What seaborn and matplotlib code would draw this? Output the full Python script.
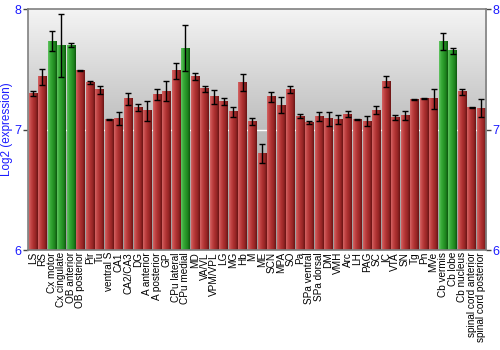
import numpy as np
import pandas as pd
import matplotlib
matplotlib.use("Agg")
import matplotlib.pyplot as plt
from matplotlib.colors import LinearSegmentedColormap, to_hex
import seaborn as sns

regions = ["LS", "RS", "Cx motor", "Cx cingulate", "OB anterior", "OB posterior", "Pir", "Tu",
           "ventral S", "CA1", "CA2/CA3", "DG", "A anterior", "A posterior", "GP", "CPu lateral",
           "CPu medial", "MD", "VA/VL", "VPM/VPL", "LG", "MG", "Hb", "M", "ME", "SCN", "MPA", "SO",
           "Pa", "SPa ventral", "SPa dorsal", "DM", "VMH", "Arc", "LH", "PAG", "SC", "IC", "VTA",
           "SN", "Tg", "Pn", "MVe", "Cb vermis", "Cb lobe", "Cb nucleus", "spinal cord anterior",
           "spinal cord posterior"]
expression = [7.30, 7.44, 7.735, 7.70, 7.70, 7.49, 7.39, 7.33, 7.083, 7.094, 7.257, 7.186,
              7.157, 7.29, 7.32, 7.49, 7.677, 7.442, 7.34, 7.273, 7.235, 7.147, 7.392, 7.069,
              6.80, 7.273, 7.204, 7.334, 7.113, 7.061, 7.11, 7.09, 7.085, 7.13, 7.085, 7.07,
              7.16, 7.40, 7.10, 7.116, 7.25, 7.26, 7.255, 7.73, 7.655, 7.315, 7.183, 7.178]
error = [0.02, 0.066, 0.085, 0.26, 0.017, 0.005, 0.012, 0.037, 0.004, 0.054, 0.048, 0.03,
         0.085, 0.044, 0.083, 0.066, 0.19, 0.03, 0.026, 0.06, 0.026, 0.04, 0.069, 0.03,
         0.081, 0.039, 0.068, 0.029, 0.015, 0.01, 0.04, 0.06, 0.04, 0.025, 0.005, 0.04,
         0.033, 0.044, 0.02, 0.039, 0.004, 0.005, 0.083, 0.072, 0.025, 0.026, 0.004, 0.075]
highlighted = ["Cx motor", "Cx cingulate", "OB anterior", "CPu medial", "Cb vermis", "Cb lobe"]

RED = "#b03434"
GREEN = "#2f9e2f"
palette = [GREEN if r in highlighted else RED for r in regions]

df = pd.DataFrame({"region": regions, "expression": expression})

sns.set_theme(style="white")
plt.rcParams["font.family"] = ["Liberation Sans", "DejaVu Sans"]

fig = plt.figure(figsize=(5, 3.5), dpi=100)
ax = fig.add_axes([0.056, 0.2857, 0.916, 0.6876])

sns.barplot(data=df, x="region", y="expression", hue="region", palette=palette,
            saturation=1, width=0.88, legend=False, errorbar=None, ax=ax, zorder=2)

YMIN, YMAX = 6, 8

# background vertical gradient
bg_cmap = LinearSegmentedColormap.from_list("bg", ["#9c9c9c", "#bdbdbd", "#f4f4f4"])
grad = np.linspace(0, 1, 256).reshape(-1, 1)
ax.imshow(grad, extent=[0, 1, 0, 1], transform=ax.transAxes, aspect="auto",
          cmap=bg_cmap, origin="lower", zorder=0)

ax.axhline(7, color="white", lw=1.0, zorder=1)

red_cmap = LinearSegmentedColormap.from_list(
    "r", ["#d46464", "#c04444", "#ad3030", "#962626", "#6a1414"])
green_cmap = LinearSegmentedColormap.from_list(
    "g", ["#62c462", "#3aab3a", "#2a9a2a", "#1f841f", "#0e560e"])
hgrad = np.linspace(0, 1, 64).reshape(1, -1)
for patch in list(ax.patches):
    x0, y0 = patch.get_x(), patch.get_y()
    w, h = patch.get_width(), patch.get_height()
    fc = to_hex(patch.get_facecolor()).lower()
    cmap = green_cmap if fc == GREEN else red_cmap
    bottom = max(y0, YMIN)
    top = min(y0 + h, YMAX)
    ax.imshow(hgrad, extent=[x0, x0 + w, bottom, top], aspect="auto",
              cmap=cmap, zorder=2, origin="lower")
    patch.set_facecolor("none")
    patch.set_edgecolor("none")

ax.errorbar(np.arange(len(regions)), expression, yerr=error, fmt="none",
            ecolor="black", elinewidth=1.0, capsize=2.5, capthick=1.0, zorder=4)

ax.set_xlim(-0.5, len(regions) - 0.5)
ax.set_ylim(YMIN, YMAX)
ax.set_yticks([6, 7, 8])
ax.set_xlabel("")
ax.set_ylabel("Log2 (expression)", color="#1a1aff", fontsize=8.4)
ax.yaxis.set_label_coords(-0.032, 0.5)

ax.tick_params(axis="y", which="both", left=True, right=True, labelleft=True,
               labelright=True, length=3.5, width=1, color="#444444",
               labelcolor="#1a1aff", labelsize=9, pad=1.0, direction="out")
ax.tick_params(axis="x", bottom=False, length=0, labelsize=7.2, pad=1.5)
ax.set_xticks(range(len(regions)))
ax.set_xticklabels(regions, rotation=90, ha="center", va="top", color="black")

for s in ["left", "right", "top", "bottom"]:
    ax.spines[s].set_visible(True)
    ax.spines[s].set_color("#808080")
    ax.spines[s].set_linewidth(1.2)
    ax.spines[s].set_zorder(5)

fig.savefig("out.png", dpi=100)
